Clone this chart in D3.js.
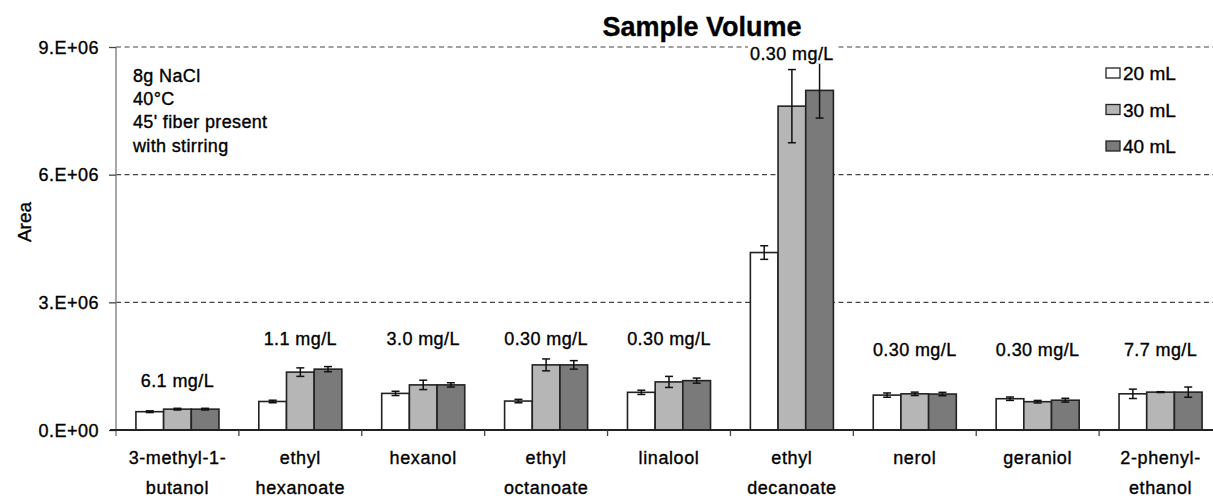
<!DOCTYPE html>
<html><head><meta charset="utf-8">
<script src="https://cdn.jsdelivr.net/npm/d3@7"></script>
<style>
html,body{margin:0;padding:0;background:#fff;}
text{font-family:"Liberation Sans",Arial,sans-serif;fill:#000;stroke:#000;stroke-width:0.35px;}
</style></head>
<body><svg id="chart" width="1213" height="498"></svg>
<script>
const categories = [["3-methyl-1-","butanol"],["ethyl","hexanoate"],["hexanol"],["ethyl","octanoate"],["linalool"],["ethyl","decanoate"],["nerol"],["geraniol"],["2-phenyl-","ethanol"]];
const series = ["20 mL","30 mL","40 mL"];
const values20 = [0.43e6,0.67e6,0.86e6,0.68e6,0.885e6,4.17e6,0.82e6,0.735e6,0.85e6];
const values30 = [0.49e6,1.36e6,1.06e6,1.53e6,1.13e6,7.61e6,0.85e6,0.665e6,0.89e6];
const values40 = [0.49e6,1.43e6,1.06e6,1.53e6,1.16e6,7.98e6,0.845e6,0.70e6,0.89e6];
const err20 = [0.02e6,0.03e6,0.05e6,0.04e6,0.05e6,0.16e6,0.05e6,0.04e6,0.11e6];
const err30 = [0.02e6,0.10e6,0.11e6,0.14e6,0.13e6,0.86e6,0.04e6,0.03e6,0.01e6];
const err40 = [0.02e6,0.06e6,0.05e6,0.10e6,0.06e6,0.65e6,0.04e6,0.045e6,0.12e6];
const concLabels = ["6.1 mg/L","1.1 mg/L","3.0 mg/L","0.30 mg/L","0.30 mg/L","0.30 mg/L","0.30 mg/L","0.30 mg/L","7.7 mg/L"];
const concLabelAt = [1.0e6,2.0e6,2.0e6,2.0e6,2.0e6,8.7e6,1.74e6,1.74e6,1.74e6];
const yTicks = [0,3e6,6e6,9e6];
const yTickLabels = ["0.E+00","3.E+06","6.E+06","9.E+06"];
const conditions = ["8g NaCl","40°C","45' fiber present","with stirring"];
const title = "Sample Volume";
const yTitle = "Area";

const colors = ["#ffffff","#b6b6b6","#7a7a7a"];
const svg = d3.select("#chart");
const W = 1213, H = 498;
const mLeft = 116, mRight = 1222, mTop = 47, mBottom = 430;

const catIdx = categories.map((d,i)=>i);
const x0 = d3.scaleBand().domain(catIdx).range([mLeft,mRight]).paddingInner(0).paddingOuter(0);
const x1 = d3.scaleBand().domain(series).range([0,x0.bandwidth()]).paddingInner(0).paddingOuter(0.72);
const y = d3.scaleLinear().domain([0,9e6]).range([mBottom,mTop]);

const vals = [values20,values30,values40];
const errs = [err20,err30,err40];

// gridlines
svg.append("g").selectAll("line").data(yTicks.filter(t=>t>0)).join("line")
  .attr("x1",mLeft).attr("x2",W).attr("y1",d=>y(d)).attr("y2",d=>y(d))
  .attr("stroke","#444").attr("stroke-width",1.2).attr("stroke-dasharray","5,3.5");

// y axis
const yAxis = d3.axisLeft(y).tickValues(yTicks).tickFormat((d,i)=>yTickLabels[i]).tickSize(7).tickPadding(10);
const gy = svg.append("g").attr("transform",`translate(${mLeft},0)`).call(yAxis);
gy.select(".domain").attr("stroke","#888").attr("stroke-width",1.5).attr("d",`M0,${mTop}V${mBottom+6}`);
gy.selectAll(".tick line").attr("stroke","#444").attr("stroke-width",1.3);
gy.selectAll(".tick text").attr("font-size",18).attr("letter-spacing","0.5px").attr("fill","#000")
  .style("font-family","Liberation Sans, Arial, sans-serif").attr("dy","0.35em");

// bars
const groups = svg.append("g").selectAll("g").data(catIdx).join("g")
  .attr("transform",i=>`translate(${x0(i)},0)`);
series.forEach((s,si)=>{
  groups.append("rect")
    .attr("x",x1(s)).attr("width",x1.bandwidth())
    .attr("y",i=>y(vals[si][i])).attr("height",i=>mBottom-y(vals[si][i]))
    .attr("fill",colors[si]).attr("stroke","#222").attr("stroke-width",1.6);
});
// error bars
series.forEach((s,si)=>{
  const cx = x1(s)+x1.bandwidth()/2;
  const eb = groups.append("g").attr("stroke","#111").attr("stroke-width",1.5);
  eb.append("line").attr("x1",cx).attr("x2",cx)
    .attr("y1",i=>y(vals[si][i]+errs[si][i])).attr("y2",i=>y(vals[si][i]-errs[si][i]));
  eb.append("line").attr("x1",cx-4).attr("x2",cx+4)
    .attr("y1",i=>y(vals[si][i]+errs[si][i])).attr("y2",i=>y(vals[si][i]+errs[si][i]));
  eb.append("line").attr("x1",cx-4).attr("x2",cx+4)
    .attr("y1",i=>y(vals[si][i]-errs[si][i])).attr("y2",i=>y(vals[si][i]-errs[si][i]));
});

// x axis
const gx = svg.append("g").attr("transform",`translate(0,${mBottom})`);
gx.append("line").attr("x1",mLeft-6).attr("x2",W).attr("y1",0).attr("y2",0).attr("stroke","#222").attr("stroke-width",2);
gx.selectAll(".ct").data(catIdx.slice(1)).join("line").attr("class","ct")
  .attr("x1",i=>x0(i)).attr("x2",i=>x0(i)).attr("y1",0).attr("y2",6).attr("stroke","#444").attr("stroke-width",1.3);

// category labels
const cl = svg.append("g").selectAll("text").data(catIdx).join("text")
  .attr("x",i=>x0(i)+x0.bandwidth()/2).attr("text-anchor","middle")
  .attr("font-size",18).attr("letter-spacing","0.6px");
cl.each(function(i){
  const t = d3.select(this);
  categories[i].forEach((ln,k)=>{
    t.append("tspan").attr("x",x0(i)+x0.bandwidth()/2).attr("y",464+k*29.5).text(ln);
  });
});

// concentration labels
const lab = svg.append("g").selectAll("g").data(catIdx).join("g");
lab.append("text").attr("x",i=>x0(i)+x0.bandwidth()/2).attr("y",i=>y(concLabelAt[i]))
  .attr("text-anchor","middle").attr("font-size",18).attr("letter-spacing","0.4px").text(i=>concLabels[i])
  .each(function(){
    const b = this.getBBox();
    d3.select(this.parentNode).insert("rect","text").attr("x",b.x-2).attr("y",b.y).attr("width",b.width+4).attr("height",b.height).attr("fill","#fff");
  });

// title
svg.append("text").attr("x",702).attr("y",36).attr("text-anchor","middle")
  .attr("font-size",27).attr("font-weight","bold").text(title);

// y title
svg.append("text").attr("transform","translate(31,222) rotate(-90)").attr("text-anchor","middle")
  .attr("font-size",19).text(yTitle);

// conditions
svg.append("g").selectAll("text").data(conditions).join("text")
  .attr("x",133).attr("y",(d,i)=>81.5+i*23.4).attr("font-size",18).attr("letter-spacing","0.35px").text(d=>d);

// legend
const lg = svg.append("g").selectAll("g").data(series).join("g")
  .attr("transform",(d,i)=>`translate(1106,${68+i*36.5})`);
lg.append("rect").attr("width",14).attr("height",10).attr("fill",(d,i)=>colors[i]).attr("stroke","#222").attr("stroke-width",1.3);
lg.append("text").attr("x",17).attr("y",12).attr("font-size",19).text(d=>d);
</script></body></html>
